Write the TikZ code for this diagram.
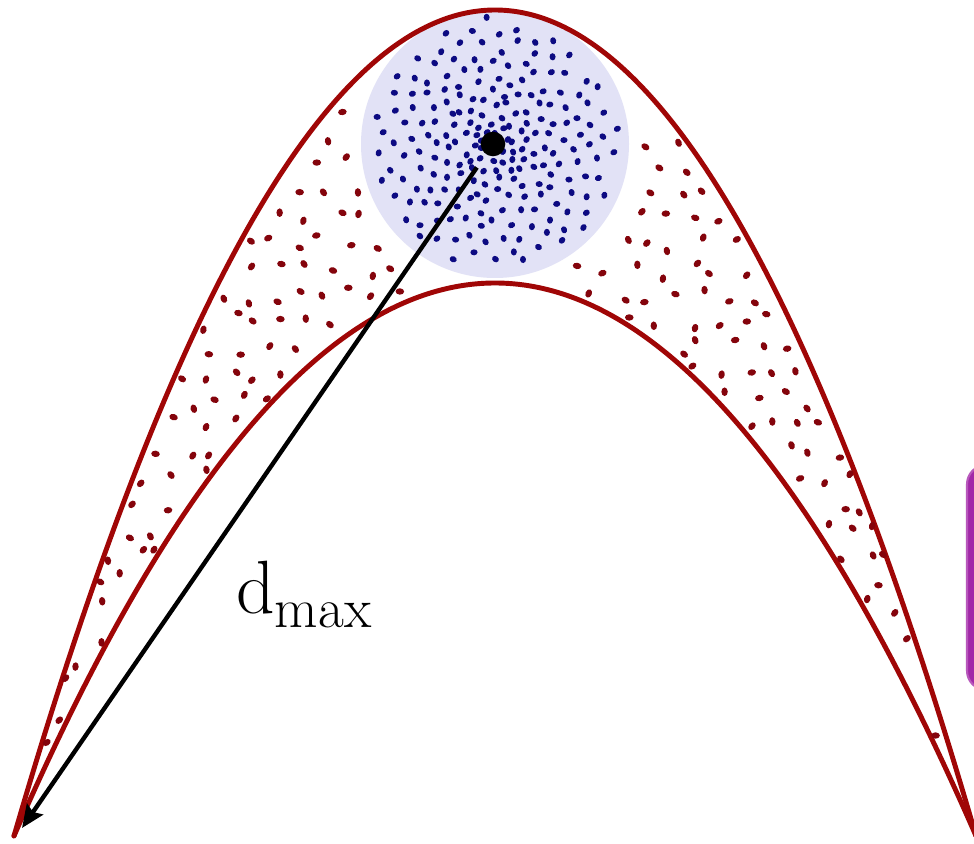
\documentclass[tikz,border=0pt]{standalone}
\usetikzlibrary{arrows.meta}
\definecolor{curvered}{RGB}{160,6,6}
\definecolor{dotred}{RGB}{132,4,12}
\definecolor{dotblue}{RGB}{12,10,130}
\definecolor{discfill}{RGB}{226,226,246}
\definecolor{boxpurple}{RGB}{162,40,168}
\definecolor{boxedge}{RGB}{184,88,188}
\tikzset{
  curve/.style={line width=2.8pt, draw=curvered, line cap=round},
  reddot/.style={fill=dotred},
  bluedot/.style={fill=dotblue},
  disc/.style={fill=discfill},
  centredot/.style={circle, fill=black, inner sep=0pt, minimum size=14pt},
  arrowline/.style={line width=2.5pt, draw=black, -{Stealth[length=13pt,width=11pt,inset=2pt]}, shorten <=9pt},
  purplebox/.style={fill=boxpurple, draw=boxedge, line width=1.2pt, rounded corners=11pt},
  lbl/.style={inner sep=0pt, anchor=base west}
}
\begin{document}
\begin{tikzpicture}[x=0.02cm, y=-0.02cm]
\useasboundingbox (0,0) rectangle (974,844);
\clip (0,0) rectangle (974,844);
\fill[white] (0,0) rectangle (974,844);
% purple box (clipped at right edge)
\path[purplebox] (967,465) rectangle (1120,690);
% disc
\fill[disc] (495,144) circle [radius=134];
% blue dots (spiral)
\pgfmathsetseed{11}
\foreach \i in {1,...,215}{
  \pgfmathsetmacro\r{124*((\i+7)/222)^0.76}
  \pgfmathsetmacro\t{10*mod(\i*13.7508,36)}
  \pgfmathsetmacro\bx{495+\r*cos(\t)+rand*3.5}
  \pgfmathsetmacro\by{144+\r*sin(\t)+rand*3.5}
  \pgfmathsetmacro\ba{rnd*180}
  \fill[bluedot, rotate around={\ba:(\bx,\by)}] (\bx,\by) ellipse [x radius=3.6, y radius=3.0];
}
% curves
\draw[curve] plot[domain=-4.81:4.81, samples=141, smooth] ({495+100*\x}, {10+35.7*\x*\x});
\draw[curve] plot[domain=-4.81:4.81, samples=141, smooth] ({495+100*\x}, {283+23.9*\x*\x});
% red dots between curves (jittered hex grid)
\pgfmathsetseed{42}
\foreach \gy in {0,...,32}{
  \foreach \gx in {0,...,36}{
    \pgfmathsetmacro\px{14+27*\gx+13.5*mod(\gy,2)+rand*9}
    \pgfmathsetmacro\py{10+26*\gy+rand*9}
    \pgfmathsetmacro\X{(\px-495)/100}
    \pgfmathsetmacro\Y{\py/100}
    \pgfmathtruncatemacro\ok{and(and(\Y > 0.1+0.357*\X*\X+0.07, \Y < 2.83+0.239*\X*\X-0.07), (\X*\X+(\Y-1.44)*(\Y-1.44)) > 2.1)}
    \ifnum\ok=1
      \pgfmathsetmacro\pa{rnd*180}
      \fill[reddot, rotate around={\pa:(\px,\py)}] (\px,\py) ellipse [x radius=4.3, y radius=3.2];
    \fi
  }
}
% centre dot and arrow
\node[centredot] (c) at (493,144) {};
\coordinate (tip) at (22,828);
\draw[arrowline] (c) -- (tip);
% label
\node[lbl] (dmax) at (236,613) {\fontsize{43}{50}\selectfont d\raisebox{-8pt}{\fontsize{32}{36}\selectfont max}};
\end{tikzpicture}
\end{document}
